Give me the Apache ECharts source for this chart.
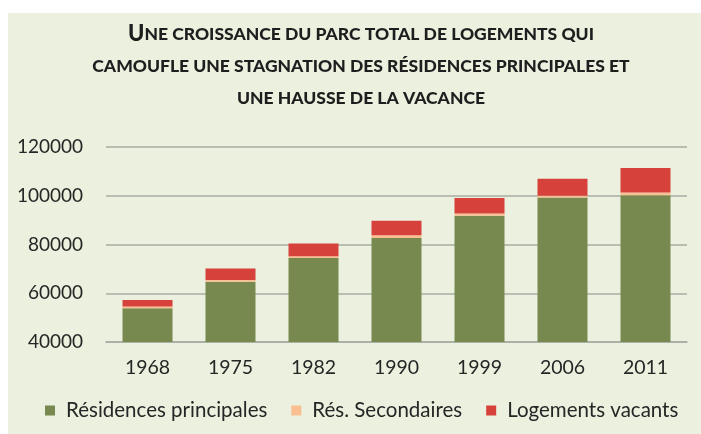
<!DOCTYPE html>
<html>
<head>
<meta charset="utf-8">
<script src="https://cdn.jsdelivr.net/npm/echarts@6/dist/echarts.min.js"></script>
<style>
  html, body { margin: 0; padding: 0; background: #fff; }
  #chart { width: 701px; height: 434px; }
</style>
</head>
<body>
<div id="chart"></div>
<script>
// données
var annees = ['1968', '1975', '1982', '1990', '1999', '2006', '2011'];
var principales = [53800, 64700, 74500, 82700, 91800, 99300, 100200];
var secondaires = [800, 700, 700, 1100, 900, 700, 1100];
var vacants = [2600, 4800, 5200, 5900, 6400, 7000, 10100];
var legendes = ['Résidences principales', 'Rés. Secondaires', 'Logements vacants'];

var myChart = echarts.init(document.getElementById('chart'));
var option = {
  backgroundColor: '#fff',
  color: ['#77894f', '#f9bf90', '#d6413c'],
  textStyle: { fontFamily: 'Lato' },
  graphic: [
    {
      type: 'rect',
      z: -100,
      shape: { x: 8, y: 13, width: 693, height: 421 },
      style: { fill: '#ebf1de' }
    }
  ],
  title: {
    left: 356,
    top: 13,
    textAlign: 'center',
    text: '{b|U}{s|NE CROISSANCE DU PARC TOTAL DE LOGEMENTS QUI}\n{s|CAMOUFLE UNE STAGNATION DES RÉSIDENCES PRINCIPALES ET}\n{s|UNE HAUSSE DE LA VACANCE}',
    textStyle: {
      rich: {
        b: { fontFamily: 'Lato', fontWeight: 900, fontSize: 22, color: '#1e1e1e', lineHeight: 32 },
        s: { fontFamily: 'Lato', fontWeight: 900, fontSize: 17.5, color: '#1e1e1e', lineHeight: 32 }
      }
    }
  },
  legend: {
    top: 395,
    left: 40,
    itemWidth: 10,
    itemHeight: 10,
    itemGap: 24,
    icon: 'rect',
    data: legendes,
    textStyle: { fontFamily: 'Lato', fontSize: 20.5, color: '#262626', padding: [0, 0, 0, 6] }
  },
  grid: { left: 106, right: 14, top: 147, bottom: 92 },
  xAxis: {
    type: 'category',
    data: annees,
    axisTick: { show: false },
    axisLine: { lineStyle: { color: '#a7ada2', width: 1.5 } },
    axisLabel: { fontFamily: 'Lato', fontSize: 19.5, color: '#262626', margin: 16 }
  },
  yAxis: {
    type: 'value',
    min: 40000,
    max: 120000,
    interval: 20000,
    axisLine: { show: false },
    axisTick: { show: false },
    splitLine: { lineStyle: { color: '#a7ada2', width: 1.5 } },
    axisLabel: {
      fontFamily: 'Lato', fontSize: 19, color: '#262626', margin: 23,
      formatter: function (v) { return String(v); }
    }
  },
  series: [
    { name: legendes[0], type: 'bar', stack: 'total', barWidth: 50, data: principales },
    { name: legendes[1], type: 'bar', stack: 'total', barWidth: 50, data: secondaires },
    { name: legendes[2], type: 'bar', stack: 'total', barWidth: 50, data: vacants }
  ]
};
myChart.setOption(option);
</script>
</body>
</html>
